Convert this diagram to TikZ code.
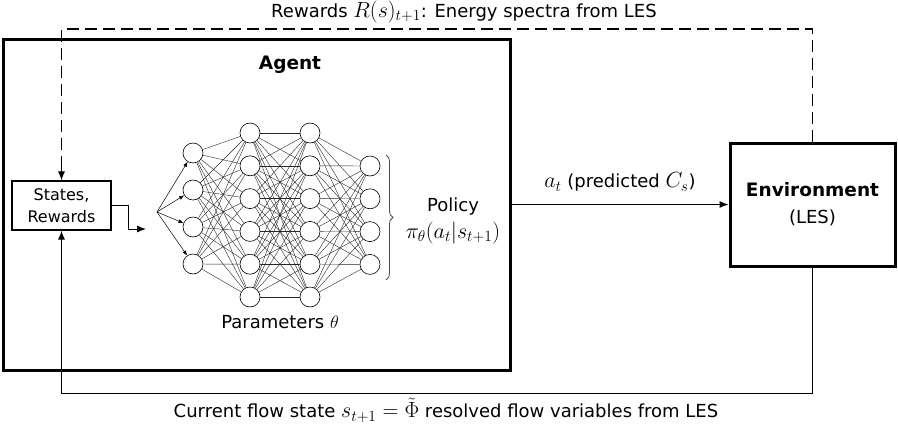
\RequirePackage{fix-cm}
\documentclass[tikz,border=0pt]{standalone}
\usepackage{fontspec}
\setmainfont{DejaVu Sans}
\usepackage{amsmath}
\usetikzlibrary{arrows.meta,decorations.pathreplacing,positioning}
\newcommand{\mth}[1]{{\fontsize{22}{24}\selectfont$#1$}}

\begin{document}
\begin{tikzpicture}[x=1pt, y=-1pt, font=\fontsize{18}{24}\selectfont,
	boldbox/.style={draw, line width=3pt, inner sep=0pt},
	statebox/.style={draw, line width=1.2pt, align=center, inner sep=0pt, minimum width=99pt, minimum height=49pt, font=\fontsize{16}{22}\selectfont},
	neuron/.style={circle, draw, line width=0.6pt, minimum size=20pt, inner sep=0pt},
	synapse/.style={line width=0.4pt, draw=black!85},
	fanarrow/.style={line width=0.5pt, -{Latex[length=5pt,width=4pt]}},
	flowarrow/.style={line width=1pt, -{Latex[length=9pt,width=7pt]}},
	rewardline/.style={line width=1.3pt, dash pattern=on 12pt off 6pt},
	netbrace/.style={draw=black!70, line width=0.8pt, decorate, decoration={brace, amplitude=7pt}}]
	\useasboundingbox (0,0) rectangle (898,424);

	% boxes
	\node[boldbox, minimum width=507pt, minimum height=331pt] (agent) at (256.5,204.5) {};
	\node[font=\fontsize{18.5}{24}\selectfont\bfseries] (agentlbl) at (290,65) {Agent};
	\node[statebox] (states) at (61.5,205.5) {States,\\Rewards};
	\node[boldbox, minimum width=165pt, minimum height=123pt, align=center, font=\fontsize{18}{27}\selectfont] (env) at (812.5,204.5) {{\fontsize{18.5}{27}\selectfont\bfseries Environment}\\(LES)};

	% network
	\foreach \i/\y in {1/153,2/190,3/227,4/264} \node[neuron] (a\i) at (193,\y) {};
	\foreach \i in {1,...,6} \node[neuron] (b\i) at (250,{133+32.8*(\i-1)}) {};
	\foreach \i in {1,...,6} \node[neuron] (c\i) at (310,{133+32.8*(\i-1)}) {};
	\foreach \i in {1,...,4} \node[neuron] (d\i) at (370,{166+32.8*(\i-1)}) {};
	\foreach \i in {1,...,4} \foreach \j in {1,...,6} \draw[synapse] (a\i) -- (b\j);
	\foreach \i in {1,...,6} \foreach \j in {1,...,6} \draw[synapse] (b\i) -- (c\j);
	\foreach \i in {1,...,6} \foreach \j in {1,...,4} \draw[synapse] (c\i) -- (d\j);
	\coordinate (fan) at (157,212);
	\foreach \i in {1,...,4} \draw[fanarrow] (fan) -- (a\i);
	\draw[netbrace] (386,155) -- (386,280);
	\node[align=center, font=\fontsize{18}{27}\selectfont] (policy) at (453,221) {Policy\\\mth{\pi_\theta(a_t|s_{t+1})}};
	\node (params) at (280,322) {Parameters $\theta$};

	% connectors
	\coordinate (netin) at (146,229);
	\draw[flowarrow] (states.east) -- ++(17,0) |- (netin);
	\draw[flowarrow] (agent.east) -- (env.west) node[midway, above=9pt] (action) {\mth{a_t} (predicted \mth{C_s})};
	\coordinate (topright) at (env.north |- 0,29);
	\coordinate (dashend) at ([yshift=14pt]states.north);
	\draw[rewardline] (env.north) -- (topright) -| (dashend);
	\draw[flowarrow] (dashend) -- (states.north);
	\coordinate (botright) at (env.south |- 0,393);
	\draw[flowarrow] (env.south) -- (botright) -| (states.south);

	% labels
	\node (rewardlbl) at (464,12) {Rewards \mth{R(s)_{t+1}}: Energy spectra from LES};
	\node (statelbl) at (446,410) {Current flow state \mth{s_{t+1}=\tilde{\Phi}} resolved flow variables from LES};
\end{tikzpicture}
\end{document}
